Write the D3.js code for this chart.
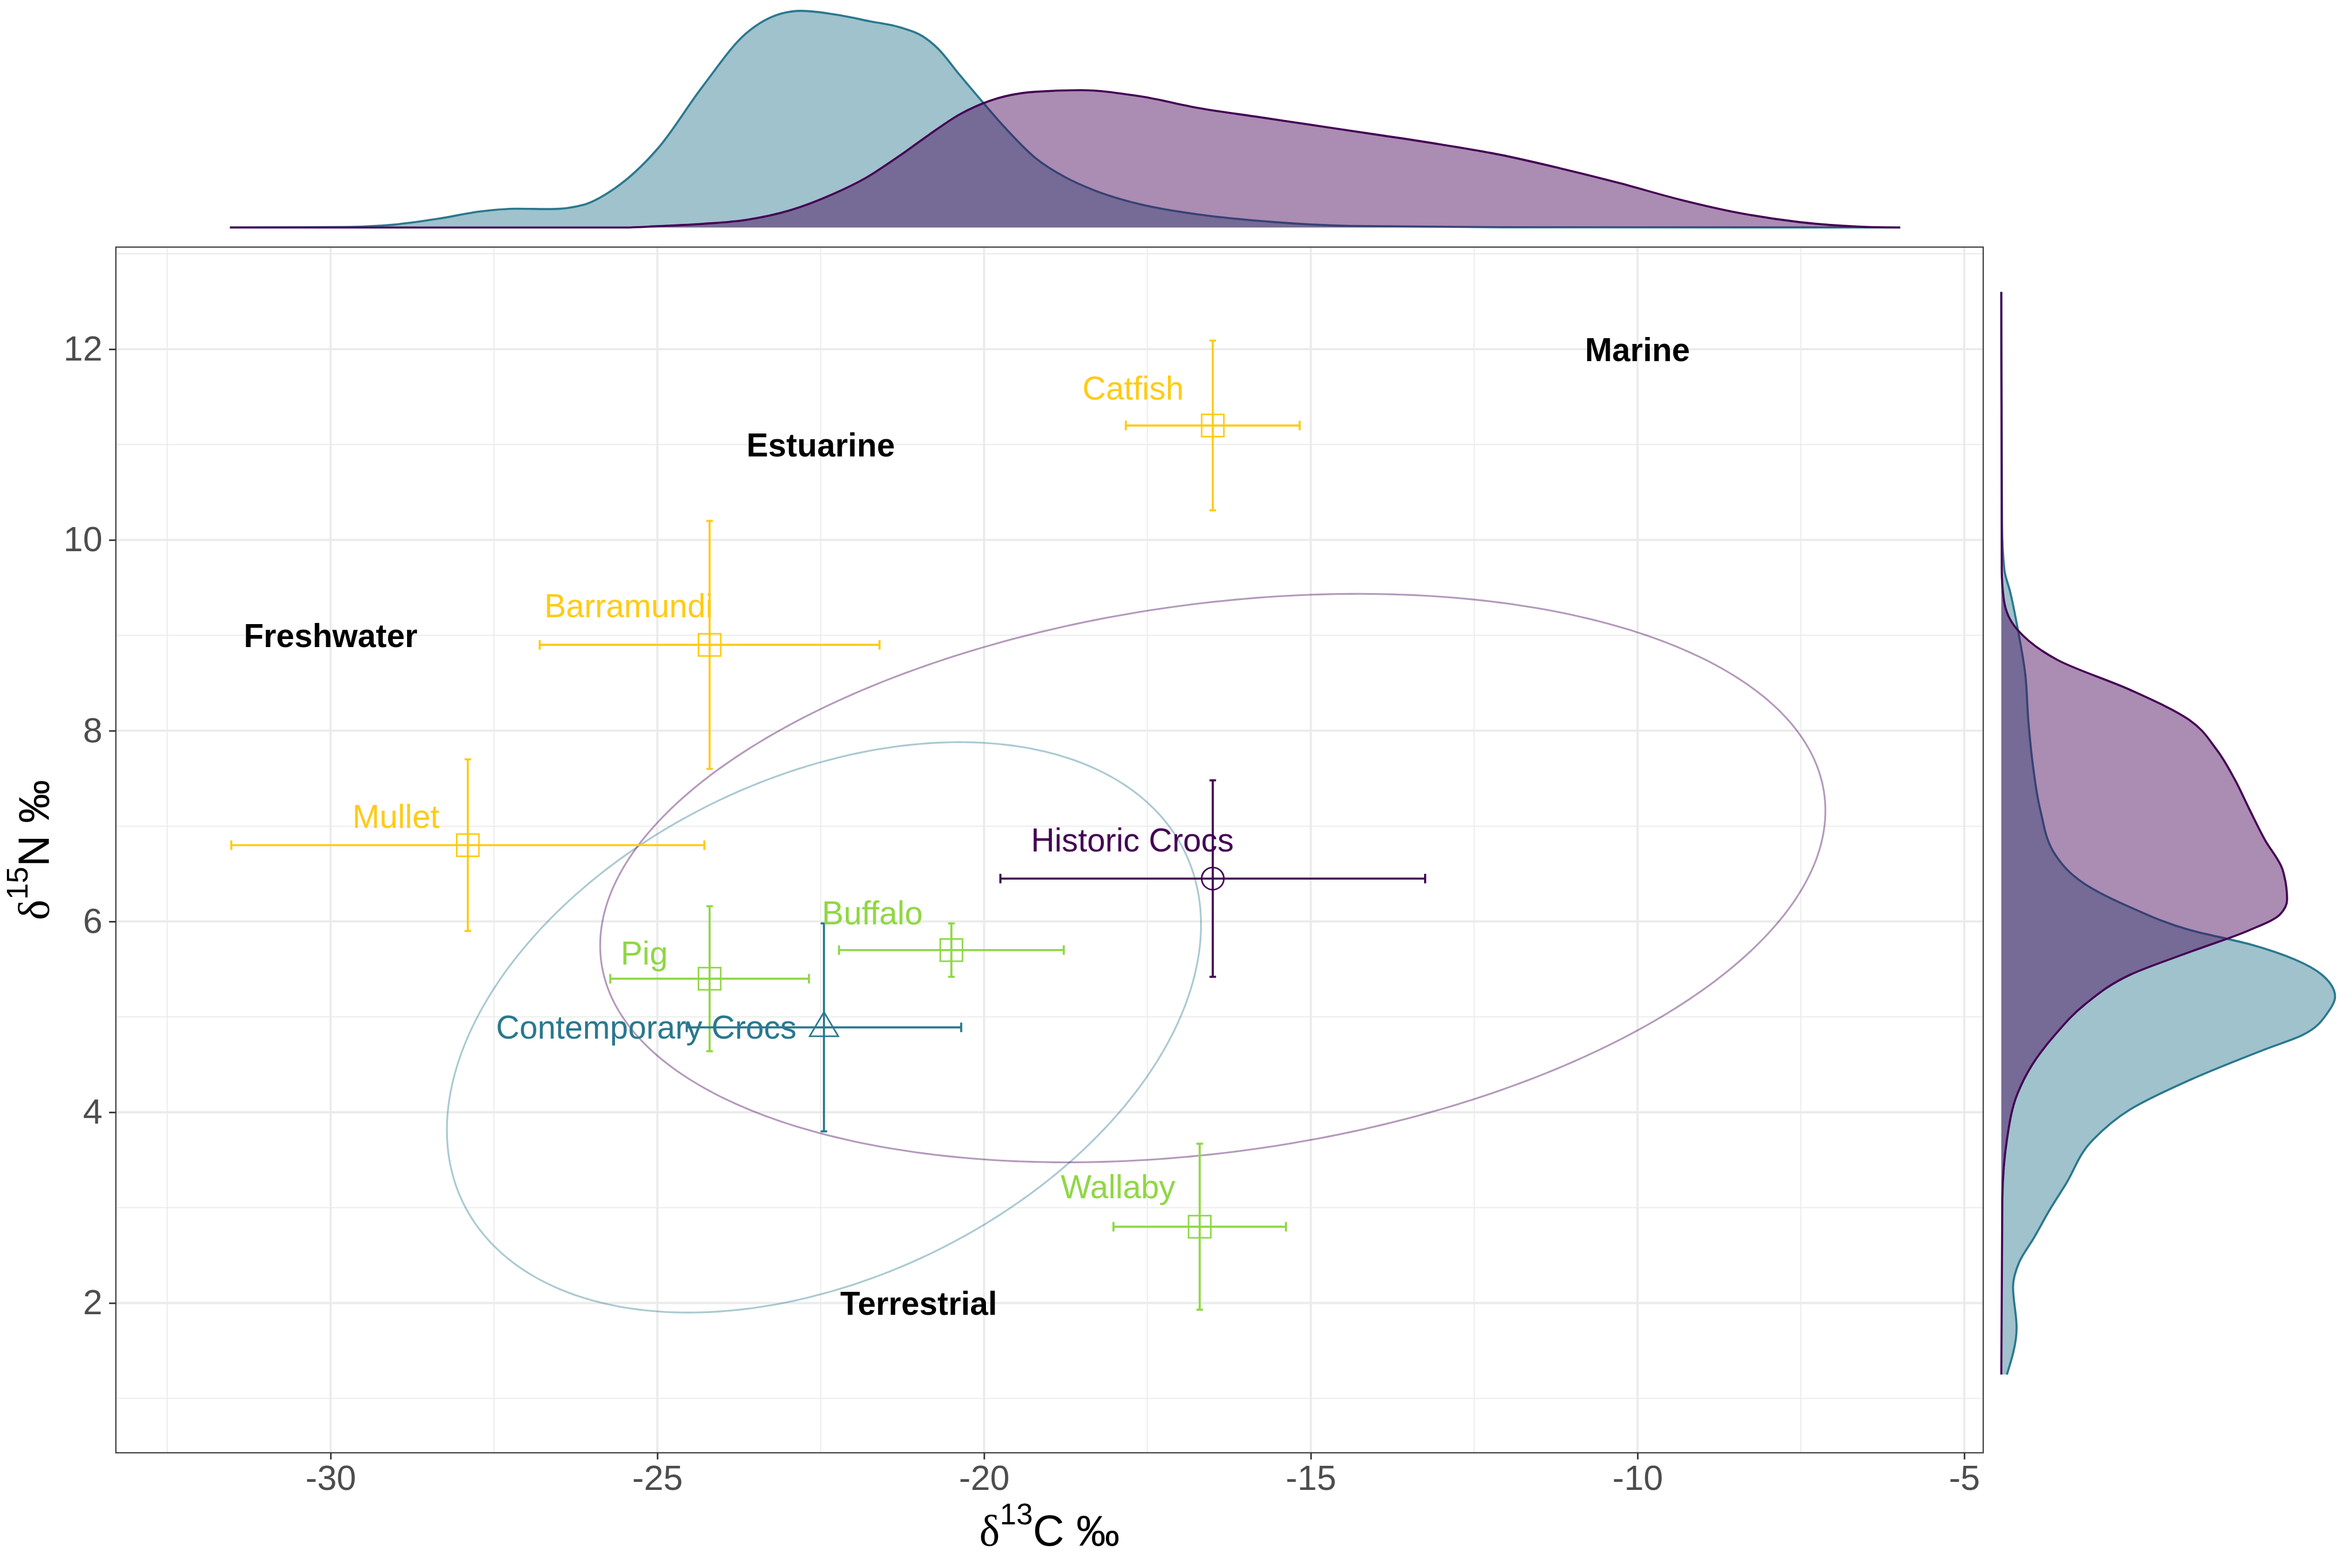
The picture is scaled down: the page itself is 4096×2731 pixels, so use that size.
<!DOCTYPE html>
<html>
<head>
<meta charset="utf-8">
<script src="https://cdn.jsdelivr.net/npm/d3@7"></script>
<style>
  html, body { margin: 0; padding: 0; background: #ffffff; overflow: hidden; }
  svg { display: block; }
</style>
</head>
<body>
<svg id="chart"></svg>
<script>
// ---- Source groups: mean ± SD of δ13C and δ15N ----
const groups    = ["Catfish", "Barramundi", "Mullet", "Historic Crocs", "Buffalo", "Pig", "Contemporary Crocs", "Wallaby"];
const groupKind = ["fish", "fish", "fish", "historic", "mammal", "mammal", "contemporary", "mammal"];
const d13CMean  = [-16.5, -24.2, -27.9, -16.5, -20.5, -24.2, -22.45, -16.7];
const d13CSd    = [1.33, 2.6, 3.62, 3.25, 1.72, 1.52, 2.1, 1.32];
const d15NMean  = [11.2, 8.9, 6.8, 6.45, 5.7, 5.4, 4.89, 2.8];
const d15NSd    = [0.89, 1.3, 0.9, 1.03, 0.28, 0.76, 1.09, 0.87];

// label anchors (centre x, baseline y) in data units
const labelX = [-17.72, -25.44, -29.0, -17.73, -21.71, -25.2, -25.17, -17.95];
const labelY = [11.47, 9.19, 6.98, 6.735, 5.97, 5.55, 4.774, 3.10];

// habitat annotations
const regionNames = ["Freshwater", "Estuarine", "Marine", "Terrestrial"];
const regionX = [-30, -22.5, -10, -21];
const regionY = [9, 11, 12, 2];

// axis ticks
const xTicks = [-30, -25, -20, -15, -10, -5];
const xMinor = [-32.5, -27.5, -22.5, -17.5, -12.5, -7.5];
const yTicks = [2, 4, 6, 8, 10, 12];
const yMinor = [1, 3, 5, 7, 9, 11, 13];

// standard ellipses for the two crocodile groups
const ellipseGroups = ["Contemporary Crocs", "Historic Crocs"];
const ellipseCx  = [-22.45, -16.5];
const ellipseCy  = [4.89, 6.455];
const ellipseRx  = [5.77, 9.375];
const ellipseRy  = [2.99, 2.98];
const ellipseRho = [0.36, 0.237];

// marginal densities: δ13C [x, density]
const densC13Contemporary = [[-31.54,0],[-30.5,0.0002],[-29.72,0.0005],[-29.04,0.0023],[-28.36,0.0071],[-27.69,0.0132],[-27.16,0.0153],[-26.61,0.0150],[-26.14,0.0183],[-25.67,0.0312],[-24.99,0.0645],[-24.32,0.1139],[-23.64,0.1581],[-23.10,0.1742],[-22.80,0.1764],[-22.21,0.1728],[-21.75,0.1679],[-21.29,0.1630],[-20.94,0.1557],[-20.71,0.1459],[-20.37,0.1240],[-20.02,0.1020],[-19.68,0.0813],[-19.22,0.0569],[-18.76,0.0410],[-18.30,0.0300],[-17.62,0.0190],[-16.70,0.0105],[-15.55,0.0044],[-14.40,0.0013],[-12.11,0.0002],[-5.98,0]];
const densC13Historic = [[-31.54,0],[-25.5,0],[-24.99,0.0011],[-24.3,0.0030],[-23.64,0.0062],[-22.97,0.0140],[-22.30,0.0275],[-21.84,0.0395],[-21.29,0.0585],[-20.83,0.0760],[-20.37,0.0922],[-19.91,0.1032],[-19.22,0.1105],[-18.53,0.1118],[-17.62,0.1069],[-16.70,0.0971],[-15.78,0.0898],[-14.86,0.0825],[-13.94,0.0752],[-13.03,0.0678],[-12.11,0.0593],[-11.19,0.0483],[-10.27,0.0361],[-9.35,0.0227],[-8.43,0.0117],[-7.52,0.0044],[-6.60,0.0007],[-5.98,0]];
// marginal densities: δ15N [y, density]
const densN15Contemporary = [[1.25,0.0039],[1.74,0.0107],[2.17,0.0082],[2.43,0.0126],[2.69,0.0231],[2.99,0.0344],[3.24,0.0449],[3.71,0.0641],[4.03,0.0903],[4.34,0.1323],[4.66,0.1848],[4.81,0.2111],[5.05,0.2289],[5.21,0.2338],[5.44,0.2247],[5.60,0.2058],[5.76,0.1743],[5.91,0.1323],[6.15,0.0903],[6.39,0.0588],[6.70,0.0378],[7.17,0.0273],[7.64,0.0221],[8.11,0.0189],[8.59,0.0168],[9.06,0.0116],[9.45,0.0063],[9.69,0.0021],[10.16,0.0005],[12.6,0]];
const densN15Historic = [[1.25,0],[3.08,0.0007],[3.71,0.0039],[4.19,0.0112],[4.50,0.0217],[4.81,0.0375],[5.13,0.0585],[5.44,0.0900],[5.68,0.1320],[5.91,0.1740],[6.07,0.1950],[6.23,0.2002],[6.54,0.1971],[6.86,0.1845],[7.17,0.1740],[7.49,0.1635],[7.80,0.1509],[8.11,0.1320],[8.43,0.0900],[8.74,0.0396],[9.06,0.0112],[9.37,0.0018],[9.69,0.0003],[12.6,0]];

// ---- styling ----
const kindColour = { fish: "#FFCB14", mammal: "#8FD744", historic: "#440154", contemporary: "#2A788E" };
const kindShape  = { fish: "square", mammal: "square", historic: "circle", contemporary: "triangle" };
const SANS  = "'Liberation Sans', Arial, Helvetica, sans-serif";
const SERIF = "'Liberation Serif', 'Times New Roman', serif";

// drawing space (viewBox units), scaled down to the window by the viewBox
const W = 4764, H = 3176;
const panel = { l: 234.7, r: 4017, t: 500.4, b: 2942.8 };

const svg = d3.select("#chart")
  .attr("width", 4096).attr("height", 2731)
  .attr("viewBox", `0 0 ${W} ${H}`);

svg.append("rect").attr("width", W).attr("height", H).attr("fill", "#ffffff");

const x = d3.scaleLinear().domain([-33.286, -4.71]).range([panel.l, panel.r]);
const y = d3.scaleLinear().domain([0.43, 13.07]).range([panel.b, panel.t]);

// ---- grid ----
const grid = svg.append("g");
grid.selectAll(".vminor").data(xMinor).join("line")
  .attr("x1", d => x(d)).attr("x2", d => x(d)).attr("y1", panel.t).attr("y2", panel.b)
  .attr("stroke", "#EBEBEB").attr("stroke-width", 2.2);
grid.selectAll(".hminor").data(yMinor).join("line")
  .attr("y1", d => y(d)).attr("y2", d => y(d)).attr("x1", panel.l).attr("x2", panel.r)
  .attr("stroke", "#EBEBEB").attr("stroke-width", 2.2);
grid.selectAll(".vmajor").data(xTicks).join("line")
  .attr("x1", d => x(d)).attr("x2", d => x(d)).attr("y1", panel.t).attr("y2", panel.b)
  .attr("stroke", "#EBEBEB").attr("stroke-width", 4.4);
grid.selectAll(".hmajor").data(yTicks).join("line")
  .attr("y1", d => y(d)).attr("y2", d => y(d)).attr("x1", panel.l).attr("x2", panel.r)
  .attr("stroke", "#EBEBEB").attr("stroke-width", 4.4);

// ---- ellipses ----
const ellipseLine = d3.line().x(p => x(p[0])).y(p => y(p[1]));
const ellipseG = svg.append("g");
ellipseGroups.forEach((g, i) => {
  const kind = groupKind[groups.indexOf(g)];
  const pts = d3.range(0, 361).map(a => {
    const t = a * Math.PI / 180;
    const c = Math.cos(t), s = Math.sin(t);
    return [ellipseCx[i] + ellipseRx[i] * c,
            ellipseCy[i] + ellipseRy[i] * (ellipseRho[i] * c + Math.sqrt(1 - ellipseRho[i] ** 2) * s)];
  });
  ellipseG.append("path").attr("d", ellipseLine(pts))
    .attr("fill", "none").attr("stroke", kindColour[kind])
    .attr("stroke-opacity", 0.4).attr("stroke-width", 3.6);
});

// ---- error bars ----
const rows = groups.map((g, i) => ({
  name: g, kind: groupKind[i], cx: d13CMean[i], cy: d15NMean[i], sx: d13CSd[i], sy: d15NSd[i],
  lx: labelX[i], ly: labelY[i]
}));
const capW = 0.05, capH = 0.05;
const bars = svg.append("g").attr("stroke-width", 4.2).attr("fill", "none");
rows.forEach(r => {
  const col = kindColour[r.kind];
  const g = bars.append("g").attr("stroke", col);
  // vertical bar (δ15N SD)
  g.append("line").attr("x1", x(r.cx)).attr("x2", x(r.cx)).attr("y1", y(r.cy - r.sy)).attr("y2", y(r.cy + r.sy));
  g.append("line").attr("x1", x(r.cx - capW)).attr("x2", x(r.cx + capW)).attr("y1", y(r.cy - r.sy)).attr("y2", y(r.cy - r.sy));
  g.append("line").attr("x1", x(r.cx - capW)).attr("x2", x(r.cx + capW)).attr("y1", y(r.cy + r.sy)).attr("y2", y(r.cy + r.sy));
  // horizontal bar (δ13C SD)
  g.append("line").attr("x1", x(r.cx - r.sx)).attr("x2", x(r.cx + r.sx)).attr("y1", y(r.cy)).attr("y2", y(r.cy));
  g.append("line").attr("x1", x(r.cx - r.sx)).attr("x2", x(r.cx - r.sx)).attr("y1", y(r.cy - capH)).attr("y2", y(r.cy + capH));
  g.append("line").attr("x1", x(r.cx + r.sx)).attr("x2", x(r.cx + r.sx)).attr("y1", y(r.cy - capH)).attr("y2", y(r.cy + capH));
});

// ---- mean markers (open shapes) ----
const markers = svg.append("g").attr("fill", "none").attr("stroke-width", 3.2);
rows.forEach(r => {
  const col = kindColour[r.kind];
  const px = x(r.cx), py = y(r.cy);
  const shape = kindShape[r.kind];
  if (shape === "square") {
    markers.append("rect").attr("x", px - 22.5).attr("y", py - 22.5).attr("width", 45).attr("height", 45).attr("stroke", col);
  } else if (shape === "circle") {
    markers.append("circle").attr("cx", px).attr("cy", py).attr("r", 22.5).attr("stroke", col);
  } else {
    markers.append("path").attr("d", `M${px},${py - 31} L${px + 29},${py + 18} L${px - 29},${py + 18} Z`).attr("stroke", col);
  }
});

// ---- point labels ----
svg.append("g").selectAll("text").data(rows).join("text")
  .attr("x", r => x(r.lx)).attr("y", r => y(r.ly))
  .attr("text-anchor", "middle")
  .attr("font-family", SANS).attr("font-size", 66)
  .attr("fill", r => kindColour[r.kind])
  .text(r => r.name);

// ---- habitat labels ----
svg.append("g").selectAll("text").data(regionNames).join("text")
  .attr("x", (d, i) => x(regionX[i])).attr("y", (d, i) => y(regionY[i]))
  .attr("dy", "0.36em")
  .attr("text-anchor", "middle")
  .attr("font-family", SANS).attr("font-size", 66).attr("font-weight", "bold")
  .attr("fill", "#000000")
  .text(d => d);

// ---- panel border ----
svg.append("rect")
  .attr("x", panel.l).attr("y", panel.t)
  .attr("width", panel.r - panel.l).attr("height", panel.b - panel.t)
  .attr("fill", "none").attr("stroke", "#333333").attr("stroke-width", 2.4);

// ---- axes ----
const fmt = d => String(d);
const xAxis = svg.append("g").attr("transform", `translate(0,${panel.b})`)
  .call(d3.axisBottom(x).tickValues(xTicks).tickFormat(fmt).tickSize(13.5).tickPadding(11));
const yAxis = svg.append("g").attr("transform", `translate(${panel.l},0)`)
  .call(d3.axisLeft(y).tickValues(yTicks).tickFormat(fmt).tickSize(13.8).tickPadding(13.3));
[xAxis, yAxis].forEach(a => {
  a.select(".domain").remove();
  a.selectAll(".tick line").attr("stroke", "#333333").attr("stroke-width", 3.2);
  a.selectAll(".tick text").attr("fill", "#4D4D4D").attr("font-family", SANS).attr("font-size", 71);
});

// ---- axis titles ----
const xt = svg.append("text")
  .attr("x", (panel.l + panel.r) / 2).attr("y", 3131)
  .attr("text-anchor", "middle").attr("font-family", SANS).attr("font-size", 88).attr("fill", "#000000");
xt.append("tspan").attr("font-family", SERIF).text("δ");
xt.append("tspan").attr("font-size", 60).attr("dy", -43).text("13");
xt.append("tspan").attr("dy", 43).text("C ‰");

const yt = svg.append("text")
  .attr("transform", `translate(99,${(panel.t + panel.b) / 2}) rotate(-90)`)
  .attr("text-anchor", "middle").attr("font-family", SANS).attr("font-size", 88).attr("fill", "#000000");
yt.append("tspan").attr("font-family", SERIF).text("δ");
yt.append("tspan").attr("font-size", 60).attr("dy", -43).text("15");
yt.append("tspan").attr("dy", 43).text("N ‰");

// ---- marginal density: δ13C (top) ----
const topD = d3.scaleLinear().domain([0, 0.1764]).range([460.7, 21.7]);
const topArea = d3.area().x(d => x(d[0])).y0(topD(0)).y1(d => topD(d[1])).curve(d3.curveMonotoneX);
const topLine = d3.line().x(d => x(d[0])).y(d => topD(d[1])).curve(d3.curveMonotoneX);
const topG = svg.append("g");
[[densC13Contemporary, "contemporary"], [densC13Historic, "historic"]].forEach(([dat, kind]) => {
  topG.append("path").attr("d", topArea(dat)).attr("fill", kindColour[kind]).attr("fill-opacity", 0.45);
  topG.append("path").attr("d", topLine(dat)).attr("fill", "none")
    .attr("stroke", kindColour[kind]).attr("stroke-width", 4.2).attr("stroke-linejoin", "round");
});

// ---- marginal density: δ15N (right) ----
const rightD = d3.scaleLinear().domain([0, 0.2338]).range([4053.7, 4729.7]);
const rightArea = d3.area().y(d => y(d[0])).x0(rightD(0)).x1(d => rightD(d[1])).curve(d3.curveMonotoneY);
const rightLine = d3.line().y(d => y(d[0])).x(d => rightD(d[1])).curve(d3.curveMonotoneY);
const rightG = svg.append("g");
[[densN15Contemporary, "contemporary"], [densN15Historic, "historic"]].forEach(([dat, kind]) => {
  rightG.append("path").attr("d", rightArea(dat)).attr("fill", kindColour[kind]).attr("fill-opacity", 0.45);
  rightG.append("path").attr("d", rightLine(dat)).attr("fill", "none")
    .attr("stroke", kindColour[kind]).attr("stroke-width", 4.2).attr("stroke-linejoin", "round");
});
</script>
</body>
</html>
